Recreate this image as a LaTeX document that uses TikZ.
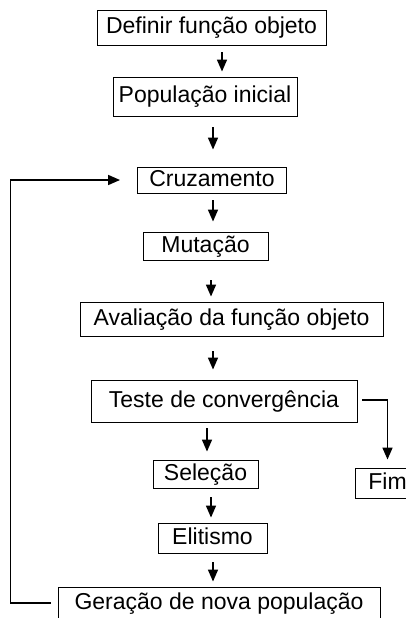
\documentclass[tikz,border=0pt]{standalone}
\usepackage{fontspec}
\setmainfont{Liberation Sans}
\usepackage{xcolor}
\usetikzlibrary{arrows.meta}

\begin{document}
\begin{tikzpicture}[x=1pt,y=1pt]
\tikzstyle{every node}+=[inner sep=0pt]
\tikzstyle{etapa}=[draw=black, line width=0.9pt, text height=17, text depth=5, font=\fontsize{23}{27}\selectfont]
\tikzstyle{seta}=[black, line width=1.6pt, -{Triangle[length=12pt,width=10pt]}]
\clip (0,0) rectangle (406,-618);
\node [etapa, minimum width=229, minimum height=35] (def) at (211.5,-27.5) {Definir função objeto};
\node [etapa, minimum width=184, minimum height=39] (pop) at (205,-96.5) {População inicial};
\node [etapa, minimum width=149, minimum height=26] (cruz) at (212,-180) {Cruzamento};
\node [etapa, minimum width=125, minimum height=28] (mut) at (205.5,-246) {Mutação};
\node [etapa, minimum width=303, minimum height=34] (aval) at (231.5,-319) {Avaliação da função objeto};
\node [etapa, minimum width=266, minimum height=42] (teste) at (224,-401) {Teste de convergência};
\node [etapa, minimum width=65, minimum height=30] (fim) at (387.5,-483) {Fim};
\node [etapa, minimum width=105, minimum height=28] (sel) at (205.5,-474) {Seleção};
\node [etapa, minimum width=109, minimum height=30] (elit) at (212.5,-538) {Elitismo};
\node [etapa, minimum width=322, minimum height=32] (ger) at (219,-603) {Geração de nova população};
\draw [seta] ([xshift=10.5,yshift=-7]def.south) -- ([xshift=17,yshift=5]pop.north);
\draw [seta] ([xshift=8,yshift=-11]pop.south) -- ([xshift=1,yshift=17]cruz.north);
\draw [seta] ([xshift=1,yshift=-7]cruz.south) -- ([xshift=7.5,yshift=10]mut.north);
\draw [seta] ([xshift=5.5,yshift=-20]mut.south) -- ([xshift=-20.5,yshift=5]aval.north);
\draw [seta] ([xshift=-18.5,yshift=-15]aval.south) -- ([xshift=-11,yshift=10]teste.north);
\draw [seta] ([xshift=-17,yshift=-6]teste.south) -- ([xshift=1.5,yshift=8]sel.north);
\draw [seta] ([xshift=5.5,yshift=-9]sel.south) -- ([xshift=-1.5,yshift=5]elit.north);
\draw [seta] ([xshift=0.5,yshift=-9]elit.south) -- ([xshift=-6,yshift=5]ger.north);
\draw [seta] ([xshift=5,yshift=1]teste.east) -| ([yshift=8]fim.north);
\draw [seta] ([xshift=-7]ger.west) -- ++(-40,0) |- ([xshift=-17]cruz.west);
\end{tikzpicture}
\end{document}
